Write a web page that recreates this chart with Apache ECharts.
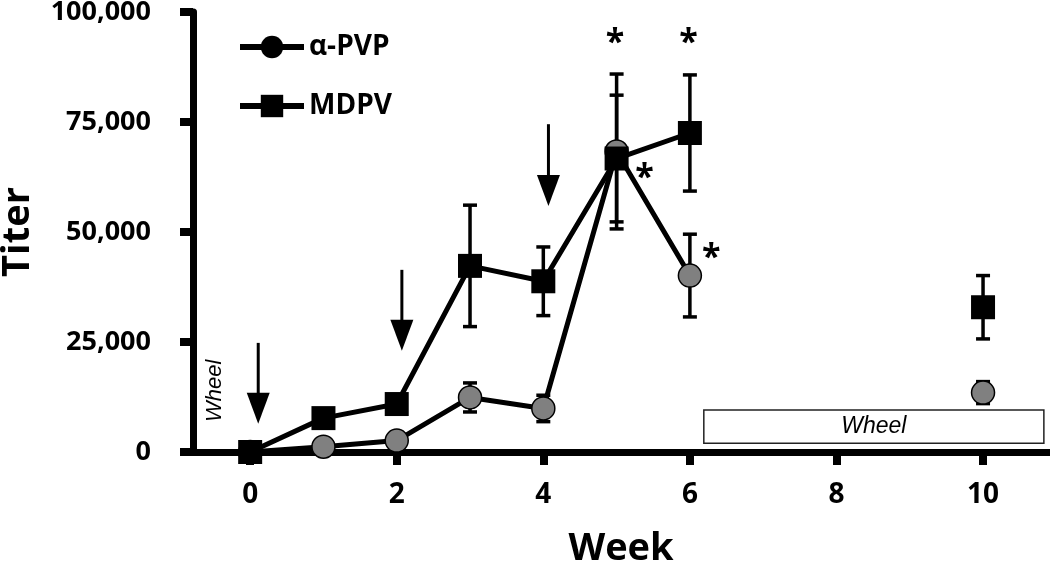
<!DOCTYPE html>
<html><head><meta charset="utf-8">
<script src="https://cdn.jsdelivr.net/npm/echarts@6/dist/echarts.min.js"></script>
<style>html,body{margin:0;padding:0;background:#fff}#c{width:1050px;height:570px}</style>
</head><body><div id="c"></div>
<script>
// ---- data ----
const weeks = [0, 1, 2, 3, 4, 5, 6, 10];
const pvpMean = [0, 1200, 2600, 12400, 9900, 68300, 40100, 13500];
const pvpSem  = [0, 500, 800, 3300, 3000, 17600, 9400, 2500];
const mdpvMean = [0, 7700, 10900, 42300, 38800, 66700, 72500, 32900];
const mdpvSem  = [0, 1000, 1500, 13800, 7800, 14400, 13200, 7200];
const xTickValues = [0, 2, 4, 6, 8, 10];
const yTickInterval = 25000;
const arrowWeeks = [0.11, 2.07, 4.07];
const arrowTops  = [24800, 41400, 74500];
const arrowTips  = [6400, 23000, 55900];
const starWeeks  = [4.98, 5.98, 5.38, 6.29];
const starValues = [94300, 94300, 63600, 45400];
const wheelBox = [6.19, 10.83, 1980, 9545];   // week from, week to, titer from, titer to
const wheelSideLabel = [-0.48, 13900];

const FONT = 'Open Sans';

function lineData(means) {
  const out = [];
  for (let i = 0; i < weeks.length; i++) {
    if (i > 0 && weeks[i] - weeks[i - 1] > 1) out.push([(weeks[i] + weeks[i - 1]) / 2, '-']);
    out.push([weeks[i], means[i]]);
  }
  return out;
}
function errData(means, sems) { return weeks.map((w, i) => [w, means[i], sems[i]]); }

function errRender(params, api) {
  const x = api.value(0), m = api.value(1), e = api.value(2);
  if (!e) return null;
  const t = api.coord([x, m + e]), b = api.coord([x, m - e]);
  const hw = 7, st = {stroke: '#000', lineWidth: 3.5};
  return {type: 'group', children: [
    {type: 'line', shape: {x1: t[0], y1: t[1], x2: b[0], y2: b[1]}, style: st},
    {type: 'line', shape: {x1: t[0] - hw, y1: t[1], x2: t[0] + hw, y2: t[1]}, style: st},
    {type: 'line', shape: {x1: b[0] - hw, y1: b[1], x2: b[0] + hw, y2: b[1]}, style: st}
  ]};
}

const chart = echarts.init(document.getElementById('c'), null, {renderer: 'canvas'});
chart.setOption({
  animation: false,
  backgroundColor: '#fff',
  grid: {left: 193, right: 1, top: 12, bottom: 118, containLabel: false, outerBoundsMode: 'none'},
  legend: {
    left: 232, top: 28, orient: 'vertical', itemWidth: 64, itemHeight: 28, itemGap: 31,
    selectedMode: false,
    lineStyle: {width: 6, color: '#000'},
    data: [{name: 'α-PVP', itemStyle: {color: '#000', borderWidth: 0}}, {name: 'MDPV'}],
    textStyle: {fontFamily: FONT, fontWeight: 'bold', fontSize: 28, color: '#000'}
  },
  xAxis: {
    type: 'value', min: -0.78, max: 10.9,
    name: 'Week', nameLocation: 'middle', nameGap: 78,
    nameTextStyle: {fontFamily: FONT, fontWeight: 'bold', fontSize: 38, color: '#000'},
    axisLine: {show: true, onZero: false, lineStyle: {color: '#000', width: 7}},
    axisTick: {show: true, customValues: xTickValues, length: 13, lineStyle: {color: '#000', width: 8}},
    axisLabel: {customValues: xTickValues, margin: 29, fontFamily: FONT, fontWeight: 'bold', fontSize: 28, color: '#000'},
    splitLine: {show: false}
  },
  yAxis: {
    type: 'value', min: 0, max: 100000, interval: yTickInterval,
    name: 'Titer', nameLocation: 'middle', nameGap: 156, nameRotate: 90,
    nameTextStyle: {fontFamily: FONT, fontWeight: 'bold', fontSize: 38, color: '#000'},
    axisLine: {show: true, onZero: false, lineStyle: {color: '#000', width: 7}},
    axisTick: {show: true, length: 13, lineStyle: {color: '#000', width: 8}},
    axisLabel: {margin: 42, fontFamily: FONT, fontWeight: 'bold', fontSize: 27, color: '#000',
      formatter: v => v.toLocaleString('en-US')},
    splitLine: {show: false}
  },
  series: [
    { // wheel box
      type: 'custom', silent: true, z: 1,
      data: [wheelBox],
      renderItem: (p, api) => {
        const a = api.coord([api.value(0), api.value(3)]);
        const b = api.coord([api.value(1), api.value(2)]);
        return {type: 'rect', shape: {x: a[0], y: a[1], width: b[0] - a[0], height: b[1] - a[1]},
          style: {fill: '#fff', stroke: '#222', lineWidth: 1.5,
            text: 'Wheel', fontFamily: 'Liberation Sans', fontStyle: 'italic', fontSize: 23,
            textFill: '#000'}, textPosition: 'inside'};
      }
    },
    { // side wheel label
      type: 'custom', silent: true, z: 1,
      data: [wheelSideLabel],
      renderItem: (p, api) => {
        const c = api.coord([api.value(0), api.value(1)]);
        return {type: 'text', x: c[0], y: c[1], rotation: Math.PI / 2,
          style: {text: 'Wheel', fontFamily: 'Liberation Sans', fontStyle: 'italic', fontSize: 22,
            fill: '#000', align: 'center', verticalAlign: 'middle'}};
      }
    },
    { // arrows
      type: 'custom', silent: true, z: 2,
      data: arrowWeeks.map((w, i) => [w, arrowTops[i], arrowTips[i]]),
      renderItem: (p, api) => {
        const t = api.coord([api.value(0), api.value(1)]);
        const b = api.coord([api.value(0), api.value(2)]);
        const hh = 31, hw = 11.5;
        return {type: 'group', children: [
          {type: 'line', shape: {x1: t[0], y1: t[1], x2: b[0], y2: b[1] - hh + 2}, style: {stroke: '#000', lineWidth: 3}},
          {type: 'polygon', shape: {points: [[b[0] - hw, b[1] - hh], [b[0] + hw, b[1] - hh], [b[0], b[1]]]}, style: {fill: '#000'}}
        ]};
      }
    },
    {type: 'custom', name: 'pvpErr', silent: true, z: 3, data: errData(pvpMean, pvpSem), renderItem: errRender},
    {type: 'custom', name: 'mdpvErr', silent: true, z: 3, data: errData(mdpvMean, mdpvSem), renderItem: errRender},
    {
      name: 'α-PVP', type: 'line', z: 4, data: lineData(pvpMean), connectNulls: false,
      symbol: 'circle', symbolSize: 23, showAllSymbol: true,
      lineStyle: {color: '#000', width: 5},
      itemStyle: {color: '#808080', borderColor: '#000', borderWidth: 1.5},
      emphasis: {disabled: true}
    },
    {
      name: 'MDPV', type: 'line', z: 5, data: lineData(mdpvMean), connectNulls: false,
      symbol: 'rect', symbolSize: 24, showAllSymbol: true,
      lineStyle: {color: '#000', width: 5},
      itemStyle: {color: '#000', borderColor: '#000', borderWidth: 0},
      emphasis: {disabled: true}
    },
    { // significance asterisks
      type: 'custom', silent: true, z: 6,
      data: starWeeks.map((w, i) => [w, starValues[i]]),
      renderItem: (p, api) => {
        const c = api.coord([api.value(0), api.value(1)]);
        return {type: 'text', x: c[0], y: c[1] + 6,
          style: {text: '*', fontFamily: FONT, fontWeight: 'bold', fontSize: 34, fill: '#000',
            align: 'center', verticalAlign: 'middle'}};
      }
    }
  ]
});
</script></body></html>
